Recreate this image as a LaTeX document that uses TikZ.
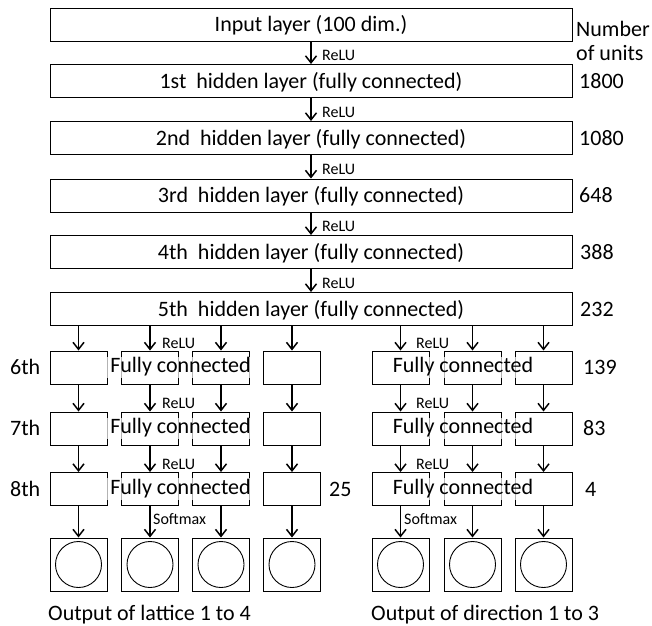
\documentclass[tikz,border=0pt]{standalone}
\usepackage{fontspec}
\setmainfont{Carlito}
\usetikzlibrary{arrows.meta}
\begin{document}
\begin{tikzpicture}[x=1pt,y=-1pt,
 every node/.style={font=\fontsize{22pt}{26pt}\selectfont, inner sep=0pt, text height=14.2pt, text depth=0pt},
 bigbox/.style={draw, line width=1pt, minimum width=522pt, minimum height=33pt},
 subbox/.style={draw, line width=1pt, minimum width=57pt, minimum height=33pt},
 outbox/.style={draw, line width=1pt, minimum width=57pt, minimum height=53pt},
 unit/.style={draw, circle, line width=0.9pt, minimum size=46pt},
 lbl/.style={anchor=west},
 small/.style={font=\fontsize{16pt}{19pt}\selectfont, text height=10.3pt, anchor=west},
 fc/.style={fill=white, fill opacity=0.7, text opacity=1, inner xsep=10pt, text depth=3.5pt, inner ysep=2pt},
 arr/.style={-{Straight Barb[length=7pt,width=11pt]}, line width=1.5pt}]
\useasboundingbox (0,0) rectangle (652,625);
% main layers
\node[bigbox] (in) at (311,24.5) {Input layer (100 dim.)};
\node[bigbox] (h1) at (311,81) {1st~ hidden layer (fully connected)};
\node[bigbox] (h2) at (311,138) {2nd~ hidden layer (fully connected)};
\node[bigbox] (h3) at (311,195.5) {3rd~ hidden layer (fully connected)};
\node[bigbox] (h4) at (311,252) {4th~ hidden layer (fully connected)};
\node[bigbox] (h5) at (311,309) {5th~ hidden layer (fully connected)};
\draw[arr] (in) -- (h1);
\draw[arr] (h1) -- (h2);
\draw[arr] (h2) -- (h3);
\draw[arr] (h3) -- (h4);
\draw[arr] (h4) -- (h5);
\node[small] (r1) at (322,55) {ReLU};
\node[small] (r2) at (322,112) {ReLU};
\node[small] (r3) at (322,169) {ReLU};
\node[small] (r4) at (322,226) {ReLU};
\node[small] (r5) at (322,283) {ReLU};
% unit counts
\node[lbl] (nnum) at (576,29) {Number};
\node[lbl] (nunits) at (576,53) {of units};
\node[lbl] (n1) at (579,81) {1800};
\node[lbl] (n2) at (579,138) {1080};
\node[lbl] (n3) at (579,195.5) {648};
\node[lbl] (n4) at (580,252) {388};
\node[lbl] (n5) at (580,309) {232};
\node[lbl] (n6) at (583,367.5) {139};
\node[lbl] (n7) at (583,428.5) {83};
\node[lbl] (n8a) at (329,489) {25};
\node[lbl] (n8b) at (585,489) {4};
% row labels
\node[lbl] (l6) at (10,367.5) {6th};
\node[lbl] (l7) at (10,428.5) {7th};
\node[lbl] (l8) at (10,489) {8th};
% sub boxes
\foreach \c/\x in {a/78.5,b/150,c/221,d/292,e/400.5,f/472.5,g/543.5}{
  \node[subbox] (\c6) at (\x,367.5) {};
  \node[subbox] (\c7) at (\x,428.5) {};
  \node[subbox] (\c8) at (\x,489) {};
  \node[outbox] (\c o) at (\x,564.5) {};
  \node[unit] (\c u) at (\x,564.5) {};
  \draw[arr] (h5.south -| \c6.north) -- (\c6.north);
  \draw[arr] (\c6) -- (\c7);
  \draw[arr] (\c7) -- (\c8);
  \draw[arr] (\c8) -- (\c o);
}
% fully connected labels
\node[fc] (fl6) at (180.5,367.5) {Fully connected};
\node[fc] (fl7) at (180.5,428.5) {Fully connected};
\node[fc] (fl8) at (180.5,489) {Fully connected};
\node[fc] (fr6) at (463,367.5) {Fully connected};
\node[fc] (fr7) at (463,428.5) {Fully connected};
\node[fc] (fr8) at (463,489) {Fully connected};
% activation labels
\node[small] (rl6) at (162,343) {ReLU};
\node[small] (rl7) at (162,403) {ReLU};
\node[small] (rl8) at (162,464) {ReLU};
\node[small] (rr6) at (416,343) {ReLU};
\node[small] (rr7) at (416,403) {ReLU};
\node[small] (rr8) at (416,464) {ReLU};
\node[small] (sl) at (153,519) {Softmax};
\node[small] (sr) at (404,519) {Softmax};
% output captions
\node[lbl] (ol) at (48,613) {Output of lattice 1 to 4};
\node[lbl] (or) at (371,613) {Output of direction 1 to 3};
\end{tikzpicture}
\end{document}
